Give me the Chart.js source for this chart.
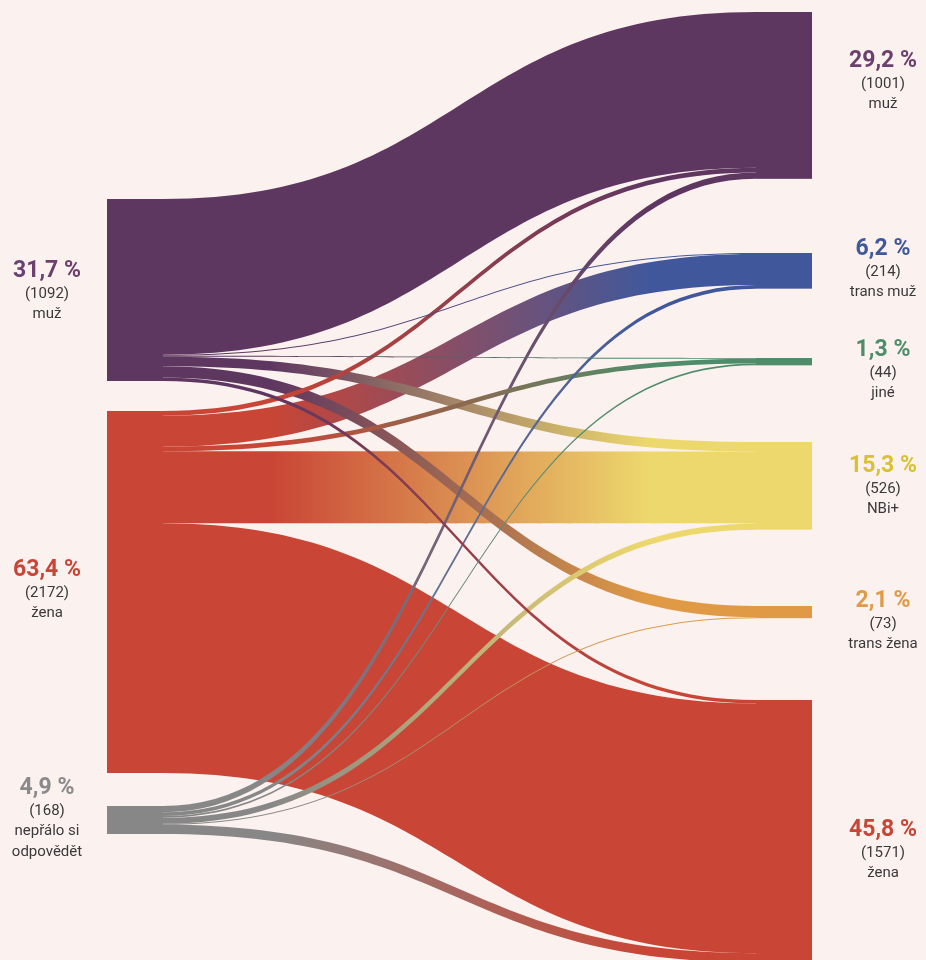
<!DOCTYPE html>
<html>
<head>
<meta charset="utf-8">
<script src="https://cdn.jsdelivr.net/npm/chart.js@4/dist/chart.umd.min.js"></script>
<style>
  html, body { margin: 0; padding: 0; background: #fbf1ee; }
  #wrap { width: 926px; height: 960px; }
</style>
</head>
<body>
<div id="wrap"><canvas id="sankey" width="926" height="960"></canvas></div>
<script>
// source side (left)
const leftNames = [["muž"], ["žena"], ["nepřálo si", "odpovědět"]];
const leftCounts = [1092, 2172, 168];
const leftPct = ["31,7 %", "63,4 %", "4,9 %"];

// target side (right)
const rightNames = [["muž"], ["trans muž"], ["jiné"], ["NBi+"], ["trans žena"], ["žena"]];
const rightCounts = [1001, 214, 44, 526, 73, 1571];
const rightPct = ["29,2 %", "6,2 %", "1,3 %", "15,3 %", "2,1 %", "45,8 %"];

// flows: one row per source, ordered like the right nodes
const flowsFromMuz = [935, 6, 5, 58, 67, 21];
const flowsFromZena = [28, 186, 28, 432, 0, 1498];
const flowsFromNep = [38, 22, 11, 36, 6, 55];

// colours
const leftColors = ["#5e3761", "#c94535", "#878787"];
const rightColors = ["#5e3761", "#40589b", "#4f8c6a", "#edd86d", "#e09a45", "#c94535"];
const leftTextColors = ["#6b3f6e", "#c94535", "#8a8a8a"];
const rightTextColors = ["#6b3f6e", "#40589b", "#4f8c6a", "#d9c232", "#e09a45", "#c94535"];

// layout (y in respondent units on the y scale)
const leftTop = [1194, 2466, 4836];
const rightTop = [72, 1518, 2148, 2652, 3636, 4200];
const leftLabelY = [1626, 3420, 4728];
const rightLabelY = [369, 1494, 2100, 2796, 3609, 4983];
const leftX = 107, rightX = 756, nodeW = 56;
const leftLabelX = 47, rightLabelX = 883;

const flowRows = [flowsFromMuz, flowsFromZena, flowsFromNep];

function buildLinks() {
    const links = [];
    const outOffset = leftTop.slice();
    const inOffset = rightTop.slice();
    // outgoing order on the left: by target; incoming on the right: by source
    for (let s = 0; s < flowRows.length; s++) {
        for (let t = 0; t < rightNames.length; t++) {
            links.push({ s: s, t: t, v: flowRows[s][t], y0: outOffset[s] });
            outOffset[s] += flowRows[s][t];
        }
    }
    for (let t = 0; t < rightNames.length; t++) {
        for (let s = 0; s < flowRows.length; s++) {
            const l = links.find(k => k.s === s && k.t === t);
            l.y1 = inOffset[t];
            inOffset[t] += l.v;
        }
    }
    return links.filter(l => l.v > 0);
}

const sankeyPlugin = {
    id: "sankey",
    afterDraw(chart) {
        const ctx = chart.ctx;
        const xs = chart.scales.x, ys = chart.scales.y;
        const links = buildLinks().sort((a, b) => b.v - a.v);

        const x0 = xs.getPixelForValue(leftX + nodeW);
        const x1 = xs.getPixelForValue(rightX);
        const xm = (x0 + x1) / 2;

        links.forEach(l => {
            const a0 = ys.getPixelForValue(l.y0), a1 = ys.getPixelForValue(l.y0 + l.v);
            const b0 = ys.getPixelForValue(l.y1), b1 = ys.getPixelForValue(l.y1 + l.v);
            const grad = ctx.createLinearGradient(x0, 0, x1, 0);
            grad.addColorStop(0, leftColors[l.s]);
            grad.addColorStop(0.18, leftColors[l.s]);
            grad.addColorStop(0.82, rightColors[l.t]);
            grad.addColorStop(1, rightColors[l.t]);
            ctx.beginPath();
            ctx.moveTo(x0, a0);
            ctx.bezierCurveTo(xm, a0, xm, b0, x1, b0);
            ctx.lineTo(x1, b1);
            ctx.bezierCurveTo(xm, b1, xm, a1, x0, a1);
            ctx.closePath();
            ctx.fillStyle = grad;
            ctx.fill();
        });

        // nodes
        const lx = xs.getPixelForValue(leftX), rx = xs.getPixelForValue(rightX);
        const w = xs.getPixelForValue(leftX + nodeW) - lx;
        flowRows.forEach((row, i) => {
            const total = row.reduce((p, c) => p + c, 0);
            const top = ys.getPixelForValue(leftTop[i]);
            ctx.fillStyle = leftColors[i];
            ctx.fillRect(lx, top, w, ys.getPixelForValue(leftTop[i] + total) - top);
        });
        rightNames.forEach((n, t) => {
            const total = flowRows.reduce((p, row) => p + row[t], 0);
            const top = ys.getPixelForValue(rightTop[t]);
            ctx.fillStyle = rightColors[t];
            ctx.fillRect(rx, top, w, ys.getPixelForValue(rightTop[t] + total) - top);
        });

        // labels
        ctx.textAlign = "center";
        ctx.textBaseline = "middle";
        function label(x, yVal, pct, count, names, color) {
            const y = ys.getPixelForValue(yVal);
            ctx.fillStyle = color;
            ctx.font = "bold 23px Roboto";
            ctx.fillText(pct, x, y);
            ctx.fillStyle = "#3a3a3a";
            ctx.font = "15px Roboto";
            ctx.fillText("(" + count + ")", x, y + 23);
            names.forEach((n, k) => ctx.fillText(n, x, y + 43 + k * 21));
        }
        leftNames.forEach((n, i) => label(xs.getPixelForValue(leftLabelX), leftLabelY[i], leftPct[i], leftCounts[i], n, leftTextColors[i]));
        rightNames.forEach((n, i) => label(xs.getPixelForValue(rightLabelX), rightLabelY[i], rightPct[i], rightCounts[i], n, rightTextColors[i]));
    }
};

new Chart(document.getElementById("sankey").getContext("2d"), {
    type: "scatter",
    data: { datasets: [] },
    options: {
        responsive: false,
        animation: false,
        layout: { padding: 0 },
        plugins: { legend: { display: false }, tooltip: { enabled: false } },
        scales: {
            x: { type: "linear", min: 0, max: 926, display: false },
            y: { type: "linear", min: 0, max: 5760, reverse: true, display: false }
        }
    },
    plugins: [sankeyPlugin]
});
</script>
</body>
</html>
